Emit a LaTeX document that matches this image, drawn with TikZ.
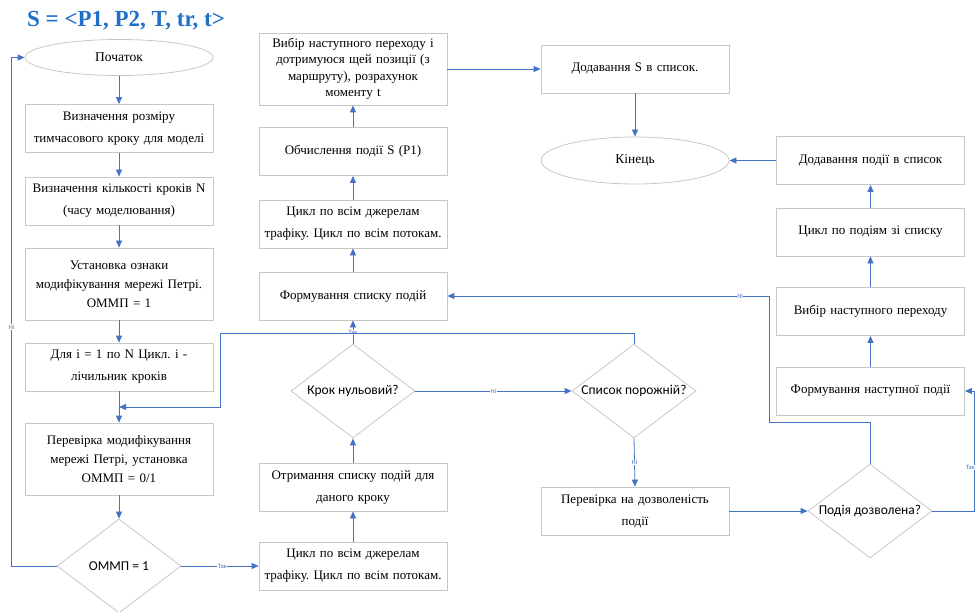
\documentclass[tikz,border=0pt]{standalone}
\usepackage{fontspec}
\setmainfont{Liberation Serif}
\newfontfamily\calibri{Carlito}
\usetikzlibrary{shapes.geometric,arrows.meta}
\definecolor{lineblue}{RGB}{68,114,196}
\definecolor{titleblue}{RGB}{30,112,200}
\frenchspacing

\begin{document}
\begin{tikzpicture}[x=1pt,y=-1pt,
  box/.style={rectangle,draw=black!22,line width=0.8pt,minimum width=188pt,minimum height=48pt,text width=186pt,align=center,inner sep=1pt,font=\fontsize{13}{22}\selectfont},
  term/.style={ellipse,draw=black!22,line width=0.8pt,minimum width=188pt,minimum height=36pt,font=\fontsize{13.5}{14}\selectfont},
  cond/.style={diamond,draw=black!22,line width=0.8pt,minimum width=124pt,minimum height=94pt,inner xsep=-30pt,inner ysep=0pt,font=\calibri\fontsize{13.5}{14}\selectfont},
  arr/.style={draw=lineblue,line width=0.8pt,-{Triangle[length=7pt,width=6pt]}},
  lbl/.style={fill=white,inner sep=0.5pt,text=lineblue,font=\calibri\fontsize{6.5}{7}\selectfont}]
\useasboundingbox (0,0) rectangle (976,612);
\node (title) at (126,21) {\fontsize{23}{24}\selectfont\bfseries\color{titleblue}S = <P1, P2, T, tr, t>};

\node[term] (start) at (119,57.5) {Початок};
\node[box] (b1) at (119,128.5) {Визначення розміру\\тимчасового кроку для моделі};
\node[box] (b2) at (119,201) {Визначення кількості кроків N\\(часу моделювання)};
\node[box,minimum height=72pt,font=\fontsize{13}{19}\selectfont] (b3) at (119,284) {Установка ознаки\\модифікування мережі Петрі.\\ОММП = 1};
\node[box] (b4) at (119,367) {Для і = 1 по N Цикл. і -\\лічильник кроків};
\node[box,minimum height=72pt,font=\fontsize{13}{19}\selectfont] (b5) at (119,459) {Перевірка модифікування\\мережі Петрі, установка\\ОММП = 0/1};
\node[cond] (d1) at (119,566) {ОММП = 1};

\node[box,minimum height=72pt,font=\fontsize{13}{16.5}\selectfont] (m1) at (353,69) {Вибір наступного переходу і\\дотримуюся щей позиції (з\\маршруту), розрахунок\\моменту t};
\node[box] (m2) at (353,151.5) {Обчислення події S (P1)};
\node[box] (m3) at (353,224) {Цикл по всім джерелам\\трафіку. Цикл по всім потокам.};
\node[box] (m4) at (353,296) {Формування списку подій};
\node[cond] (d2) at (353,391) {Крок нульовий?};
\node[box] (m5) at (353,487) {Отримання списку подій для\\даного кроку};
\node[box] (m6) at (353,566) {Цикл по всім джерелам\\трафіку. Цикл по всім потокам.};

\node[box] (adds) at (635,69) {Додавання S в список.};
\node[term,minimum height=47pt] (end) at (635,160.5) {Кінець};
\node[cond] (d3) at (634,391) {Список порожній?};
\node[box] (chk) at (635,511) {Перевірка на дозволеність\\події};
\node[cond] (d4) at (870,511) {Подія дозволена?};

\node[box] (r4) at (870.5,160.5) {Додавання події в список};
\node[box] (r3) at (870.5,232) {Цикл по подіям зі списку};
\node[box] (r2) at (870.5,311.5) {Вибір наступного переходу};
\node[box] (r1) at (870.5,391) {Формування наступної події};

\coordinate (join) at (119,407);

\draw[arr] (start) -- (b1);
\draw[arr] (b1) -- (b2);
\draw[arr] (b2) -- (b3);
\draw[arr] (b3) -- (b4);
\draw[arr] (b4) -- (b5);
\draw[arr] (b5) -- (d1);
\draw[arr] (d1.west) -- ++(-45,0) |- node[lbl,pos=0.235]{Ні} (start.west);
\draw[arr] (d1.east) -- node[lbl,pos=0.53]{Так} (m6.west);
\draw[arr] (m6) -- (m5);
\draw[arr] (m5) -- (d2);
\draw[arr] (d2.north) -- node[lbl,pos=0.48]{Так} (m4.south);
\draw[arr] (m4) -- (m3);
\draw[arr] (m3) -- (m2);
\draw[arr] (m2) -- (m1);
\draw[arr] (m1.east) -- (adds.west);
\draw[arr] (adds) -- (end);
\draw[arr] (d2.east) -- node[lbl]{Ні} (d3.west);
\draw[arr] (d3.north) -- ++(0,-10) -- ++(-414,0) |- (join);
\draw[arr] (d3.south) -- node[lbl]{Ні} (chk.north);
\draw[arr] (chk.east) -- (d4.west);
\draw[arr] (d4.north) -- ++(0,-41) -- ++(-101,0) |- node[lbl,pos=0.545]{Ні} (m4.east);
\draw[arr] (d4.east) -- ++(42,0) |- node[lbl,pos=0.18,xshift=-4pt]{Так} (r1.east);
\draw[arr] (r1) -- (r2);
\draw[arr] (r2) -- (r3);
\draw[arr] (r3) -- (r4);
\draw[arr] (r4.west) -- (end.east);
\end{tikzpicture}
\end{document}
